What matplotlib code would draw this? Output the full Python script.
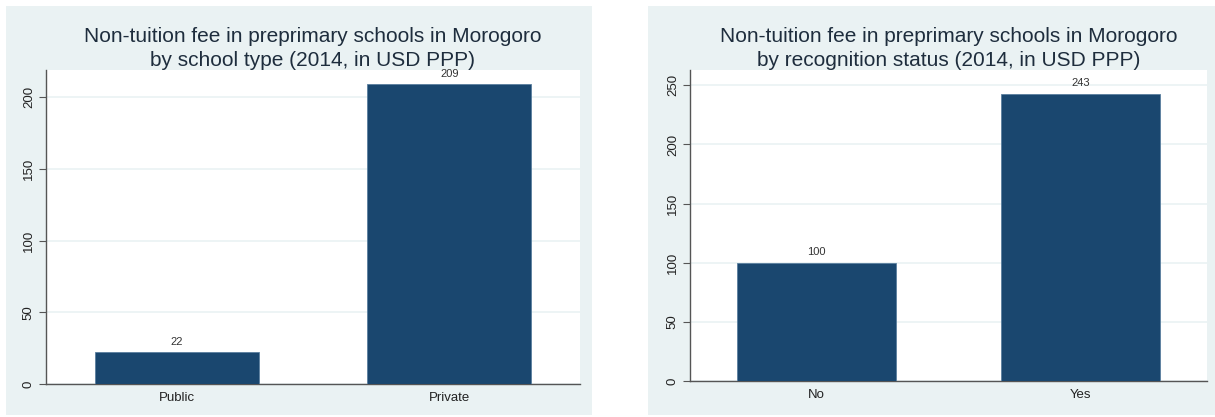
import matplotlib.pyplot as plt
from matplotlib.patches import Rectangle

plt.rcParams['font.family'] = ['Liberation Sans', 'DejaVu Sans']

# data
type_labels = ['Public', 'Private']
type_fees = [22, 209]
recog_labels = ['No', 'Yes']
recog_fees = [100, 243]

titles = [
    'Non-tuition fee in preprimary schools in Morogoro\nby school type (2014, in USD PPP)',
    'Non-tuition fee in preprimary schools in Morogoro\nby recognition status (2014, in USD PPP)',
]

bg = '#EAF2F3'
navy = '#1A476F'
W, H = 1215, 417

fig = plt.figure(figsize=(12.15, 4.17), dpi=100)
fig.patch.set_facecolor('white')

# panel backgrounds (pixel boxes converted to figure fraction)
for x0, x1 in [(6, 592), (648, 1215)]:
    fig.patches.append(Rectangle((x0 / W, 2 / H), (x1 - x0) / W, (411 - 2) / H,
                                 transform=fig.transFigure, facecolor=bg,
                                 edgecolor='none', zorder=-10))

ax1 = fig.add_axes([46 / W, 33 / H, (580 - 46) / W, (384 - 70) / H])
ax2 = fig.add_axes([690 / W, 36 / H, (1207 - 690) / W, (381 - 70) / H])

panels = [
    (ax1, type_labels, type_fees, [0, 50, 100, 150, 200], 219, titles[0]),
    (ax2, recog_labels, recog_fees, [0, 50, 100, 150, 200, 250], 263, titles[1]),
]

for ax, labels, vals, yt, ytop, title in panels:
    ax.set_facecolor('white')
    x = list(range(len(labels)))
    bars = ax.bar(x, vals, width=0.6, color=navy, edgecolor='#5a7f9f',
                  linewidth=0.6, zorder=3)
    for b, v in zip(bars, vals):
        ax.annotate(str(v), (b.get_x() + b.get_width() / 2, v),
                    xytext=(0, 4), textcoords='offset points',
                    ha='center', va='bottom', fontsize=8, color='#333333')
    ax.set_xlim(-0.48, 1.48)
    ax.set_ylim(0, ytop)
    ax.set_xticks(x)
    ax.set_xticklabels(labels, fontsize=9.5, color='#222222')
    ax.set_yticks(yt)
    ax.set_yticklabels([str(t) for t in yt], rotation=90, va='center',
                       fontsize=9.5, color='#222222')
    ax.tick_params(axis='y', length=5, width=0.8, color='#555555', pad=3)
    ax.tick_params(axis='x', length=0, pad=6)
    ax.grid(axis='y', color=bg, linewidth=1.2, zorder=0)
    for s in ['top', 'right']:
        ax.spines[s].set_visible(False)
    for s in ['left', 'bottom']:
        ax.spines[s].set_color('#555555')
        ax.spines[s].set_linewidth(1.0)
    ax.set_title(title, fontsize=15, color='#1e2d3d', pad=2, linespacing=1.35)

fig.savefig('out.png', dpi=100, facecolor=fig.get_facecolor())
